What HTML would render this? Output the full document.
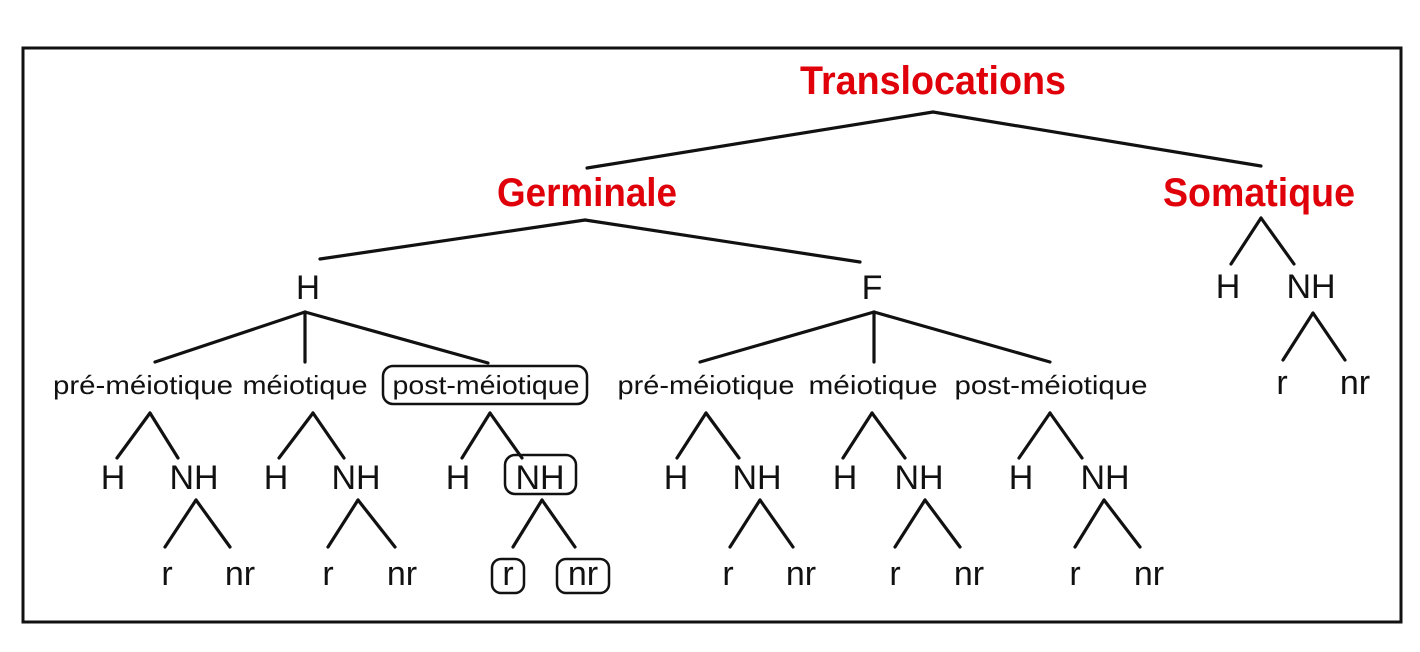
<!DOCTYPE html>
<html><head><meta charset="utf-8"><style>
html,body{margin:0;padding:0;background:#fff;}
svg{display:block;}
text{font-family:"Liberation Sans",Arial,sans-serif;text-anchor:middle;fill:#111;}
.red{fill:#e0000a;font-weight:bold;font-size:40px;}
.l1{font-size:34px;}
.l2{font-size:26px;}
.l3{font-size:34px;}
line{stroke:#111;stroke-width:3.2;stroke-linecap:round;}
rect.b{fill:none;stroke:#111;stroke-width:2.5;}
</style></head><body>
<svg width="1420" height="652" viewBox="0 0 1420 652">
<rect x="23" y="48" width="1378" height="574" fill="none" stroke="#111" stroke-width="3"/>
<text class="red" x="933" y="94" textLength="266" lengthAdjust="spacingAndGlyphs">Translocations</text>
<line x1="933" y1="112" x2="587" y2="168"/><line x1="933" y1="112" x2="1261" y2="166"/>
<text class="red" x="587" y="206" textLength="180" lengthAdjust="spacingAndGlyphs">Germinale</text>
<text class="red" x="1259" y="206" textLength="192" lengthAdjust="spacingAndGlyphs">Somatique</text>
<line x1="585" y1="220" x2="320" y2="259"/><line x1="585" y1="220" x2="860" y2="262"/>
<text class="l1" x="308" y="299" textLength="24" lengthAdjust="spacingAndGlyphs">H</text><text class="l1" x="872" y="299">F</text>
<line x1="305" y1="312" x2="155" y2="362"/><line x1="305" y1="312" x2="305" y2="362"/><line x1="305" y1="312" x2="488" y2="363"/>
<line x1="874" y1="312" x2="700" y2="362"/><line x1="874" y1="312" x2="874" y2="362"/><line x1="874" y1="312" x2="1050" y2="362"/>
<text class="l2" x="143" y="394" textLength="180" lengthAdjust="spacingAndGlyphs">pré-méiotique</text>
<text class="l2" x="305" y="394" textLength="125" lengthAdjust="spacingAndGlyphs">méiotique</text>
<text class="l2" x="486" y="394" textLength="187" lengthAdjust="spacingAndGlyphs">post-méiotique</text>
<text class="l2" x="706" y="394" textLength="177" lengthAdjust="spacingAndGlyphs">pré-méiotique</text>
<text class="l2" x="873" y="394" textLength="129" lengthAdjust="spacingAndGlyphs">méiotique</text>
<text class="l2" x="1051" y="394" textLength="193" lengthAdjust="spacingAndGlyphs">post-méiotique</text>
<rect class="b" x="383" y="366" width="204" height="38" rx="10"/>
<g>
<line x1="150" y1="413" x2="117" y2="458"/><line x1="150" y1="413" x2="178" y2="458"/>
<line x1="313" y1="413" x2="279" y2="458"/><line x1="313" y1="413" x2="344" y2="458"/>
<line x1="490" y1="413" x2="462" y2="458"/><line x1="490" y1="413" x2="522" y2="458"/>
<line x1="706" y1="413" x2="677" y2="458"/><line x1="706" y1="413" x2="739" y2="458"/>
<line x1="872" y1="413" x2="843" y2="458"/><line x1="872" y1="413" x2="905" y2="458"/>
<line x1="1050" y1="413" x2="1019" y2="458"/><line x1="1050" y1="413" x2="1082" y2="458"/>
</g>
<g>
<text class="l3" x="113" y="489">H</text><text class="l3" x="194" y="489">NH</text>
<text class="l3" x="276" y="489">H</text><text class="l3" x="356" y="489">NH</text>
<text class="l3" x="458" y="489">H</text><text class="l3" x="540" y="489">NH</text>
<text class="l3" x="676" y="489">H</text><text class="l3" x="757" y="489">NH</text>
<text class="l3" x="845" y="489">H</text><text class="l3" x="919" y="489">NH</text>
<text class="l3" x="1021" y="489">H</text><text class="l3" x="1105" y="489">NH</text>
</g>
<rect class="b" x="505" y="455" width="71" height="39" rx="10"/>
<g>
<line x1="196" y1="500" x2="165" y2="547"/><line x1="196" y1="500" x2="230" y2="547"/>
<line x1="358" y1="500" x2="328" y2="547"/><line x1="358" y1="500" x2="395" y2="547"/>
<line x1="542" y1="500" x2="513" y2="547"/><line x1="542" y1="500" x2="575" y2="547"/>
<line x1="760" y1="500" x2="730" y2="547"/><line x1="760" y1="500" x2="793" y2="547"/>
<line x1="925" y1="500" x2="895" y2="547"/><line x1="925" y1="500" x2="960" y2="547"/>
<line x1="1104" y1="500" x2="1075" y2="547"/><line x1="1104" y1="500" x2="1140" y2="547"/>
</g>
<g>
<text class="l3" x="167" y="585">r</text><text class="l3" x="240" y="585">nr</text>
<text class="l3" x="328" y="585">r</text><text class="l3" x="402" y="585">nr</text>
<text class="l3" x="508" y="585">r</text><text class="l3" x="583" y="585">nr</text>
<text class="l3" x="728" y="585">r</text><text class="l3" x="801" y="585">nr</text>
<text class="l3" x="895" y="585">r</text><text class="l3" x="969" y="585">nr</text>
<text class="l3" x="1075" y="585">r</text><text class="l3" x="1149" y="585">nr</text>
</g>
<rect class="b" x="492" y="559" width="32" height="34" rx="9"/>
<rect class="b" x="557" y="559" width="52" height="34" rx="9"/>
<line x1="1261" y1="218" x2="1231" y2="264"/><line x1="1261" y1="218" x2="1294" y2="264"/>
<text class="l3" x="1228" y="298">H</text><text class="l3" x="1311" y="298">NH</text>
<line x1="1313" y1="313" x2="1283" y2="360"/><line x1="1313" y1="313" x2="1345" y2="360"/>
<text class="l3" x="1282" y="394">r</text><text class="l3" x="1355" y="394">nr</text>
</svg>
</body></html>
